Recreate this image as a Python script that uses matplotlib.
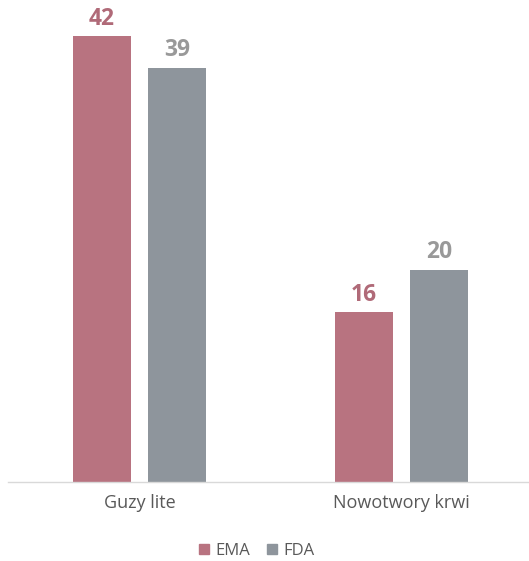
import numpy as np
import matplotlib.pyplot as plt
from matplotlib.patches import Patch

plt.rcParams['font.family'] = ['Open Sans', 'DejaVu Sans']

categories = ["Guzy lite", "Nowotwory krwi"]
series = ["EMA", "FDA"]
ema = [42, 16]
fda = [39, 20]

colors = ["#B87380", "#8E959C"]
label_colors = ["#B06A78", "#999999"]

fig = plt.figure(figsize=(5.29, 5.61), dpi=100)
ax = fig.add_axes([8/529, 1 - 482/561, 521/529, 462/561])

x = np.arange(len(categories))
width = 0.221
offset = 0.143
for vals, dx, c, lc in zip([ema, fda], [-offset, offset], colors, label_colors):
    bars = ax.bar(x + dx, vals, width, color=c)
    for b, v in zip(bars, vals):
        ax.text(b.get_x() + b.get_width() / 2, v + 0.5, str(v),
                ha="center", va="bottom", fontsize=16.5, fontweight="bold", color=lc)

ax.set_xlim(-0.502, 1.487)
ax.set_ylim(0, 43.5)
ax.set_yticks([])
ax.set_xticks(x)
ax.set_xticklabels(categories, fontsize=13, color="#595959")
ax.tick_params(axis="x", length=0, pad=9)
for s in ["top", "right", "left"]:
    ax.spines[s].set_visible(False)
ax.spines["bottom"].set_color("#D9D9D9")
ax.spines["bottom"].set_linewidth(1)

handles = [Patch(color=c, label=s) for c, s in zip(colors, series)]
fig.legend(handles=handles, loc="center", bbox_to_anchor=(0.485, 1 - 551/561),
           ncol=2, frameon=False, fontsize=12, handlelength=0.6, handleheight=0.6,
           handletextpad=0.4, columnspacing=1.0, labelcolor="#595959")

fig.savefig("out.png", dpi=100)
